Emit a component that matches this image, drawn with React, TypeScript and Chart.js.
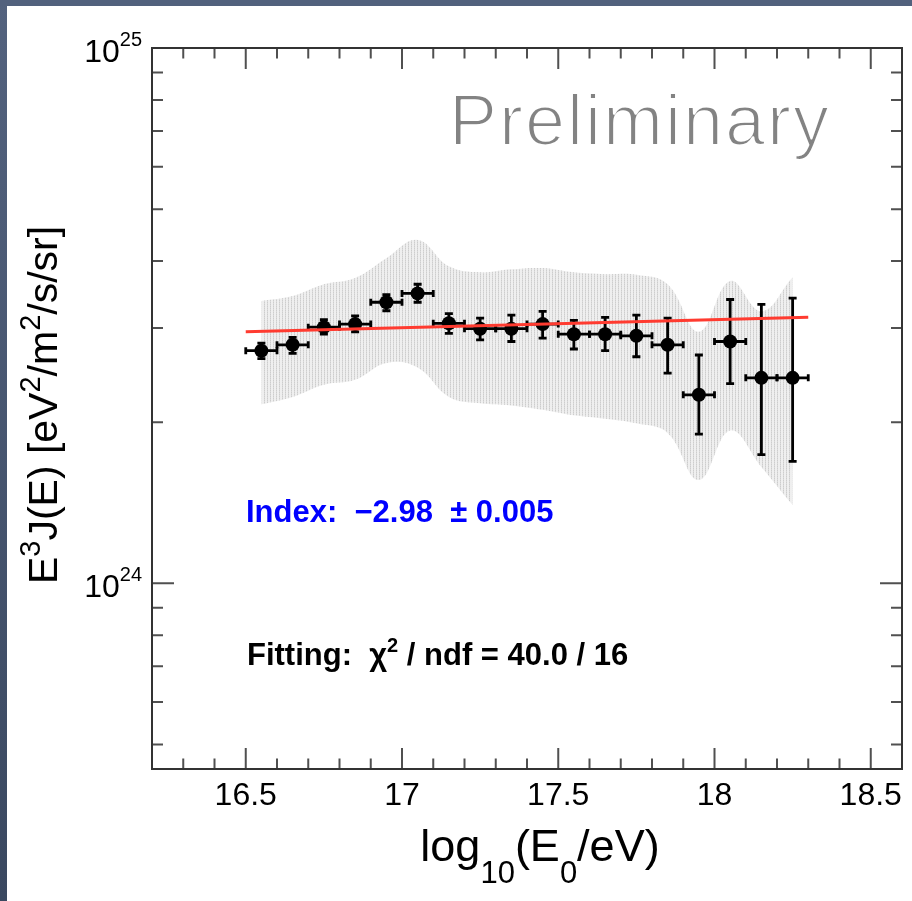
import React, { useEffect, useRef } from 'react';
import { Chart, registerables } from 'chart.js';

Chart.register(...registerables);

// ---------------- data ----------------
const binCenters = [16.55, 16.65, 16.75, 16.85, 16.95, 17.05, 17.15, 17.25, 17.35, 17.45, 17.55, 17.65, 17.75, 17.85, 17.95, 18.05, 18.15, 18.25];
const binHalfWidth = 0.05;
// E^3 J(E) in eV^2/m^2/s/sr
const flux = [2.72e24, 2.79e24, 3.01e24, 3.05e24, 3.35e24, 3.48e24, 3.06e24, 2.99e24, 2.99e24, 3.05e24, 2.92e24, 2.92e24, 2.90e24, 2.79e24, 2.25e24, 2.83e24, 2.42e24, 2.42e24];
const statHigh = [2.81e24, 2.88e24, 3.11e24, 3.16e24, 3.46e24, 3.62e24, 3.19e24, 3.13e24, 3.17e24, 3.22e24, 3.10e24, 3.14e24, 3.17e24, 3.13e24, 2.67e24, 3.39e24, 3.32e24, 3.41e24];
const statLow = [2.63e24, 2.69e24, 2.92e24, 2.95e24, 3.23e24, 3.35e24, 2.93e24, 2.85e24, 2.83e24, 2.87e24, 2.74e24, 2.72e24, 2.65e24, 2.47e24, 1.90e24, 2.36e24, 1.74e24, 1.69e24];
// systematic band
const sysHigh = [3.37e24, 3.44e24, 3.62e24, 3.72e24, 4.05e24, 4.38e24, 3.91e24, 3.81e24, 3.86e24, 3.88e24, 3.81e24, 3.78e24, 3.77e24, 3.62e24, 2.95e24, 3.67e24, 3.22e24, 3.73e24];
const sysLow = [2.16e24, 2.23e24, 2.35e24, 2.40e24, 2.58e24, 2.53e24, 2.23e24, 2.17e24, 2.15e24, 2.11e24, 2.06e24, 2.03e24, 1.99e24, 1.91e24, 1.56e24, 1.93e24, 1.65e24, 1.40e24];
// power-law fit
const fitX = [16.5, 18.3];
const fitY = [2.95e24, 3.14e24];
// axes
const xMin = 16.2;
const xMax = 18.6;
const yMin = 4.5e23;
const yMax = 1e25;
const xTickValues = [16.5, 17, 17.5, 18, 18.5];
const xTickLabels = ['16.5', '17', '17.5', '18', '18.5'];
const yTickValues = [1e24, 1e25];
const yTickExponents = ['24', '25'];

const FONT = "'Liberation Sans', Arial, Helvetica, sans-serif";

type Seg = { t: string; s: number; dy: number };

function drawRich(ctx: CanvasRenderingContext2D, segs: Seg[], x: number, y: number, weight: string, align: 'left' | 'center' | 'right', erode = 0) {
  let total = 0;
  const widths: number[] = [];
  for (const sg of segs) {
    ctx.font = `${weight} ${sg.s}px ${FONT}`;
    const w = ctx.measureText(sg.t).width;
    widths.push(w);
    total += w;
  }
  let cx = align === 'left' ? x : align === 'center' ? x - total / 2 : x - total;
  ctx.textAlign = 'left';
  ctx.textBaseline = 'alphabetic';
  segs.forEach((sg, i) => {
    ctx.font = `${weight} ${sg.s}px ${FONT}`;
    ctx.fillText(sg.t, cx, y + sg.dy);
    if (erode > 0) {
      ctx.save();
      ctx.strokeStyle = '#ffffff';
      ctx.lineWidth = erode;
      ctx.lineJoin = 'round';
      ctx.strokeText(sg.t, cx, y + sg.dy);
      ctx.restore();
    }
    cx += widths[i];
  });
}

function makePattern(): CanvasPattern | string {
  const c = document.createElement('canvas');
  c.width = 3;
  c.height = 2;
  const g = c.getContext('2d');
  if (!g) return '#e4e4e4';
  g.fillStyle = '#efefef';
  g.fillRect(0, 0, 3, 2);
  g.fillStyle = '#cdcdcd';
  g.fillRect(0, 0, 1, 1);
  g.fillStyle = '#dbdbdb';
  g.fillRect(0, 1, 1, 1);
  const p = g.createPattern(c, 'repeat');
  return p || '#e4e4e4';
}

const POINTS_INDEX = 2;

const rootStylePlugin = {
  id: 'rootStyle',
  beforeDraw(chart: any) {
    const ctx: CanvasRenderingContext2D = chart.ctx;
    ctx.save();
    ctx.fillStyle = '#ffffff';
    ctx.fillRect(0, 0, chart.width, chart.height);
    const grad = ctx.createLinearGradient(0, 0, 0, chart.height);
    grad.addColorStop(0, '#53627e');
    grad.addColorStop(1, '#3a4860');
    ctx.fillStyle = grad;
    ctx.fillRect(0, 0, 7, chart.height);
    ctx.fillStyle = '#52617d';
    ctx.fillRect(0, 0, chart.width, 6);
    ctx.restore();
  },
  beforeDatasetDraw(chart: any, args: any) {
    if (args.index !== POINTS_INDEX) return;
    const ctx: CanvasRenderingContext2D = chart.ctx;
    const xs = chart.scales.x;
    const ys = chart.scales.y;
    ctx.save();
    ctx.strokeStyle = '#000000';
    ctx.lineWidth = 2.8;
    ctx.lineCap = 'butt';
    for (let i = 0; i < binCenters.length; i++) {
      const px = xs.getPixelForValue(binCenters[i]);
      const py = ys.getPixelForValue(flux[i]);
      const x0 = xs.getPixelForValue(binCenters[i] - binHalfWidth);
      const x1 = xs.getPixelForValue(binCenters[i] + binHalfWidth);
      const yH = ys.getPixelForValue(statHigh[i]);
      const yL = ys.getPixelForValue(statLow[i]);
      ctx.beginPath();
      ctx.moveTo(x0, py);
      ctx.lineTo(x1, py);
      ctx.moveTo(x0, py - 3.5);
      ctx.lineTo(x0, py + 3.5);
      ctx.moveTo(x1, py - 3.5);
      ctx.lineTo(x1, py + 3.5);
      ctx.moveTo(px, yH);
      ctx.lineTo(px, yL);
      ctx.moveTo(px - 4, yH);
      ctx.lineTo(px + 4, yH);
      ctx.moveTo(px - 4, yL);
      ctx.lineTo(px + 4, yL);
      ctx.stroke();
    }
    ctx.restore();
  },
  afterDraw(chart: any) {
    const ctx: CanvasRenderingContext2D = chart.ctx;
    const xs = chart.scales.x;
    const ys = chart.scales.y;
    const { left, right, top, bottom } = chart.chartArea;
    ctx.save();
    // ticks
    ctx.strokeStyle = '#505050';
    ctx.lineWidth = 2;
    const majorX = 21;
    const minorX = 10.5;
    ctx.beginPath();
    for (let k = Math.ceil(xMin * 10); k <= Math.floor(xMax * 10); k++) {
      const v = k / 10;
      const isMajor = k % 5 === 0;
      const len = isMajor ? majorX : minorX;
      const px = xs.getPixelForValue(v);
      if (px <= left + 1 || px >= right - 1) continue;
      ctx.moveTo(px, bottom);
      ctx.lineTo(px, bottom - len);
      ctx.moveTo(px, top);
      ctx.lineTo(px, top + len);
    }
    const majorY = 22;
    const minorY = 11;
    for (let e = 23; e <= 25; e++) {
      for (let m = 1; m <= 9; m++) {
        const v = m * Math.pow(10, e);
        if (v < yMin || v > yMax) continue;
        const py = ys.getPixelForValue(v);
        if (py <= top + 1 || py >= bottom - 1) continue;
        const len = m === 1 ? majorY : minorY;
        ctx.moveTo(left, py);
        ctx.lineTo(left + len, py);
        ctx.moveTo(right, py);
        ctx.lineTo(right - len, py);
      }
    }
    ctx.stroke();
    // frame
    ctx.strokeStyle = '#333333';
    ctx.lineWidth = 2;
    ctx.strokeRect(left, top, right - left, bottom - top);

    // x tick labels
    ctx.fillStyle = '#000000';
    xTickValues.forEach((v, i) => {
      drawRich(ctx, [{ t: xTickLabels[i], s: 32, dy: 0 }], xs.getPixelForValue(v), bottom + 36, 'normal', 'center');
    });
    // y tick labels
    yTickValues.forEach((v, i) => {
      const py = ys.getPixelForValue(v);
      drawRich(ctx, [{ t: '10', s: 32, dy: 0 }, { t: yTickExponents[i], s: 20, dy: -16 }], left - 10, py + 14, 'normal', 'right');
    });

    // axis titles
    drawRich(ctx, [
      { t: 'log', s: 45, dy: 0 },
      { t: '10', s: 31, dy: 22 },
      { t: '(E', s: 45, dy: 0 },
      { t: '0', s: 31, dy: 22 },
      { t: '/eV)', s: 45, dy: 0 },
    ], 540, 861, 'normal', 'center');

    ctx.save();
    ctx.translate(57, 405);
    ctx.rotate(-Math.PI / 2);
    drawRich(ctx, [
      { t: 'E', s: 41, dy: 0 },
      { t: '3', s: 29, dy: -17 },
      { t: 'J(E) [eV', s: 41, dy: 0 },
      { t: '2', s: 29, dy: -17 },
      { t: '/m', s: 41, dy: 0 },
      { t: '2', s: 29, dy: -17 },
      { t: '/s/sr]', s: 41, dy: 0 },
    ], 0, 0, 'normal', 'center');
    ctx.restore();

    // annotations
    ctx.fillStyle = '#0000ff';
    drawRich(ctx, [{ t: 'Index:  \u22122.98  \u00B1 0.005', s: 31, dy: 0 }], 246, 522, 'bold', 'left');
    ctx.fillStyle = '#000000';
    drawRich(ctx, [
      { t: 'Fitting:  \u03C7', s: 31, dy: 0 },
      { t: '2', s: 20, dy: -13 },
      { t: ' / ndf = 40.0 / 16', s: 31, dy: 0 },
    ], 247, 665, 'bold', 'left');

    ctx.fillStyle = '#838383';
    (ctx as any).letterSpacing = '2px';
    drawRich(ctx, [{ t: 'Preliminary', s: 72, dy: 0 }], 449, 145, 'normal', 'left', 2.2);
    (ctx as any).letterSpacing = '0px';
    ctx.restore();
  },
};

export default function App() {
  const canvasRef = useRef<HTMLCanvasElement | null>(null);

  useEffect(() => {
    const canvas = canvasRef.current;
    if (!canvas) return;
    const pattern = makePattern();
    const bandHigh = binCenters.map((x, i) => ({ x, y: sysHigh[i] }));
    const bandLow = binCenters.map((x, i) => ({ x, y: sysLow[i] }));
    const points = binCenters.map((x, i) => ({ x, y: flux[i] }));
    const fit = fitX.map((x, i) => ({ x, y: fitY[i] }));

    const chart = new Chart(canvas, {
      type: 'line',
      data: {
        datasets: [
          {
            label: 'sys high',
            data: bandHigh,
            borderColor: 'rgba(0,0,0,0)',
            borderWidth: 0,
            backgroundColor: pattern as any,
            fill: '+1',
            pointRadius: 0,
            tension: 0.4,
            order: 4,
          },
          {
            label: 'sys low',
            data: bandLow,
            borderColor: 'rgba(0,0,0,0)',
            borderWidth: 0,
            fill: false,
            pointRadius: 0,
            tension: 0.4,
            order: 3,
          },
          {
            label: 'data',
            data: points,
            showLine: false,
            pointRadius: 7,
            pointBackgroundColor: '#000000',
            pointBorderColor: '#000000',
            pointBorderWidth: 0,
            order: 2,
          },
          {
            label: 'fit',
            data: fit,
            borderColor: '#ff3b30',
            borderWidth: 3,
            pointRadius: 0,
            fill: false,
            tension: 0,
            order: 1,
          },
        ],
      },
      options: {
        responsive: false,
        animation: false,
        events: [],
        layout: { padding: { left: 152, top: 48, right: 10, bottom: 132 } },
        scales: {
          x: { type: 'linear', min: xMin, max: xMax, display: false },
          y: { type: 'logarithmic', min: yMin, max: yMax, display: false },
        },
        plugins: {
          legend: { display: false },
          tooltip: { enabled: false },
        },
      },
      plugins: [rootStylePlugin],
    });
    return () => chart.destroy();
  }, []);

  return (
    <div style={{ position: 'fixed', left: 0, top: 0, width: 912, height: 901, background: '#ffffff' }}>
      <canvas ref={canvasRef} width={912} height={901} style={{ display: 'block', width: 912, height: 901 }} />
    </div>
  );
}
